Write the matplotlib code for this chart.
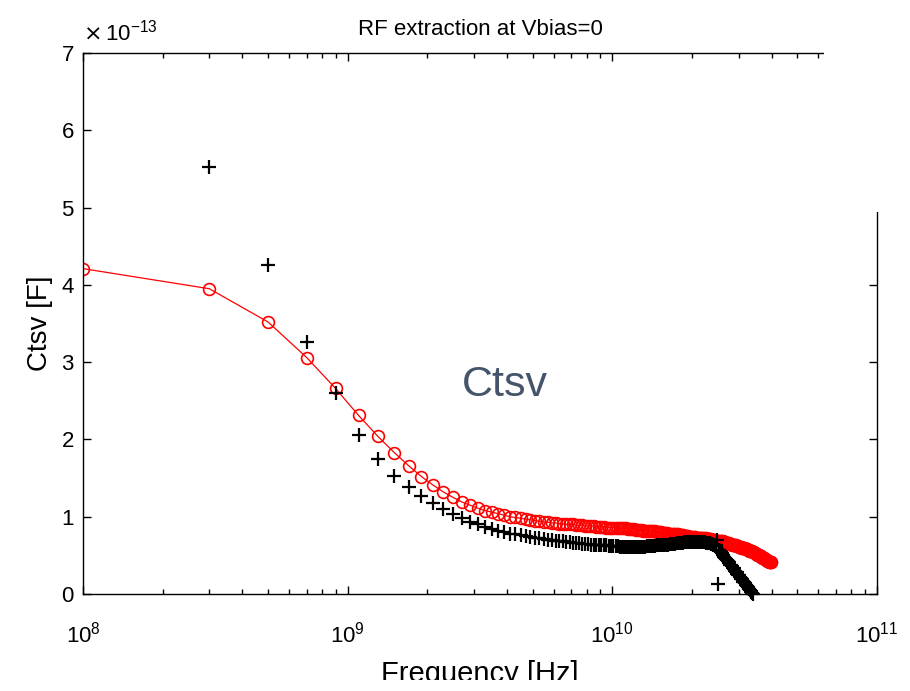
import matplotlib.pyplot as plt
from matplotlib.patches import Rectangle
from matplotlib.ticker import ScalarFormatter

plt.rcParams["font.family"] = ["Liberation Sans", "DejaVu Sans"]

# frequency sweep in GHz (0.2 GHz step)
freq_ghz = [
    0.1, 0.3, 0.5, 0.7, 0.9, 1.1, 1.3, 1.5, 1.7, 1.9,
    2.1, 2.3, 2.5, 2.7, 2.9, 3.1, 3.3, 3.5, 3.7, 3.9,
    4.1, 4.3, 4.5, 4.7, 4.9, 5.1, 5.3, 5.5, 5.7, 5.9,
    6.1, 6.3, 6.5, 6.7, 6.9, 7.1, 7.3, 7.5, 7.7, 7.9,
    8.1, 8.3, 8.5, 8.7, 8.9, 9.1, 9.3, 9.5, 9.7, 9.9,
    10.1, 10.3, 10.5, 10.7, 10.9, 11.1, 11.3, 11.5, 11.7, 11.9,
    12.1, 12.3, 12.5, 12.7, 12.9, 13.1, 13.3, 13.5, 13.7, 13.9,
    14.1, 14.3, 14.5, 14.7, 14.9, 15.1, 15.3, 15.5, 15.7, 15.9,
    16.1, 16.3, 16.5, 16.7, 16.9, 17.1, 17.3, 17.5, 17.7, 17.9,
    18.1, 18.3, 18.5, 18.7, 18.9, 19.1, 19.3, 19.5, 19.7, 19.9,
    20.1, 20.3, 20.5, 20.7, 20.9, 21.1, 21.3, 21.5, 21.7, 21.9,
    22.1, 22.3, 22.5, 22.7, 22.9, 23.1, 23.3, 23.5, 23.7, 23.9,
    24.1, 24.3, 24.5, 24.7, 24.9, 25.1, 25.3, 25.5, 25.7, 25.9,
    26.1, 26.3, 26.5, 26.7, 26.9, 27.1, 27.3, 27.5, 27.7, 27.9,
    28.1, 28.3, 28.5, 28.7, 28.9, 29.1, 29.3, 29.5, 29.7, 29.9,
    30.1, 30.3, 30.5, 30.7, 30.9, 31.1, 31.3, 31.5, 31.7, 31.9,
    32.1, 32.3, 32.5, 32.7, 32.9, 33.1, 33.3, 33.5, 33.7, 33.9,
    34.1, 34.3, 34.5, 34.7, 34.9, 35.1, 35.3, 35.5, 35.7, 35.9,
    36.1, 36.3, 36.5, 36.7, 36.9, 37.1, 37.3, 37.5, 37.7, 37.9,
    38.1, 38.3, 38.5, 38.7, 38.9, 39.1, 39.3, 39.5, 39.7, 39.9,
]

# fitted Ctsv (red circles), units of 1e-13 F
ctsv_fit = [
    4.21, 3.95, 3.52, 3.06, 2.66, 2.31, 2.04, 1.83, 1.66, 1.52,
    1.41, 1.32, 1.25, 1.19, 1.15, 1.11, 1.08, 1.06, 1.04, 1.02,
    1.00, 0.99, 0.98, 0.97, 0.96, 0.95, 0.94, 0.93, 0.93, 0.92,
    0.92, 0.91, 0.91, 0.90, 0.90, 0.90, 0.89, 0.89, 0.89, 0.88,
    0.88, 0.88, 0.88, 0.87, 0.87, 0.87, 0.87, 0.86, 0.86, 0.86,
    0.86, 0.86, 0.85, 0.85, 0.85, 0.85, 0.85, 0.84, 0.84, 0.84,
    0.84, 0.83, 0.83, 0.83, 0.83, 0.82, 0.82, 0.82, 0.82, 0.81,
    0.81, 0.81, 0.81, 0.80, 0.80, 0.80, 0.80, 0.79, 0.79, 0.79,
    0.79, 0.78, 0.78, 0.78, 0.78, 0.77, 0.77, 0.77, 0.77, 0.76,
    0.76, 0.76, 0.76, 0.75, 0.75, 0.75, 0.75, 0.74, 0.74, 0.74,
    0.74, 0.74, 0.74, 0.73, 0.73, 0.73, 0.73, 0.73, 0.72, 0.72,
    0.72, 0.72, 0.72, 0.71, 0.71, 0.71, 0.71, 0.71, 0.70, 0.70,
    0.70, 0.70, 0.70, 0.69, 0.69, 0.69, 0.69, 0.68, 0.68, 0.68,
    0.68, 0.67, 0.67, 0.67, 0.66, 0.66, 0.66, 0.66, 0.65, 0.65,
    0.65, 0.64, 0.64, 0.64, 0.63, 0.63, 0.63, 0.62, 0.62, 0.62,
    0.61, 0.61, 0.61, 0.60, 0.60, 0.60, 0.59, 0.59, 0.59, 0.58,
    0.58, 0.58, 0.57, 0.57, 0.56, 0.56, 0.56, 0.55, 0.55, 0.54,
    0.54, 0.54, 0.53, 0.53, 0.52, 0.52, 0.51, 0.51, 0.50, 0.50,
    0.49, 0.49, 0.48, 0.48, 0.47, 0.47, 0.46, 0.46, 0.45, 0.45,
    0.44, 0.44, 0.43, 0.43, 0.43, 0.42, 0.42, 0.42, 0.41, 0.41,
]

# raw RF extraction (black crosses), starts at 0.3 GHz, units of 1e-13 F
ctsv_rf = [
    5.53, 4.26, 3.26, 2.60, 2.06, 1.75, 1.53, 1.39, 1.27,
    1.18, 1.10, 1.04, 0.98, 0.93, 0.90, 0.87, 0.84, 0.82, 0.80,
    0.78, 0.77, 0.76, 0.75, 0.74, 0.73, 0.72, 0.71, 0.70, 0.70,
    0.69, 0.68, 0.68, 0.67, 0.67, 0.66, 0.66, 0.66, 0.65, 0.65,
    0.65, 0.64, 0.64, 0.64, 0.63, 0.63, 0.63, 0.63, 0.62, 0.62,
    0.62, 0.62, 0.62, 0.61, 0.61, 0.61, 0.61, 0.61, 0.61, 0.61,
    0.61, 0.61, 0.61, 0.61, 0.61, 0.61, 0.61, 0.62, 0.62, 0.62,
    0.62, 0.62, 0.62, 0.63, 0.63, 0.63, 0.63, 0.63, 0.64, 0.64,
    0.64, 0.64, 0.65, 0.65, 0.65, 0.65, 0.65, 0.66, 0.66, 0.66,
    0.66, 0.66, 0.66, 0.67, 0.67, 0.67, 0.67, 0.67, 0.67, 0.67,
    0.67, 0.67, 0.67, 0.67, 0.67, 0.67, 0.67, 0.67, 0.67, 0.67,
    0.67, 0.67, 0.66, 0.66, 0.66, 0.66, 0.66, 0.65, 0.65, 0.65,
    0.64, 0.64, 0.63, 0.63, 0.70, 0.13, 0.57, 0.56, 0.54, 0.53,
    0.51, 0.50, 0.48, 0.47, 0.45, 0.44, 0.43, 0.41, 0.40, 0.38,
    0.37, 0.36, 0.34, 0.33, 0.32, 0.30, 0.29, 0.28, 0.26, 0.25,
    0.24, 0.22, 0.21, 0.20, 0.19, 0.17, 0.16, 0.15, 0.14, 0.12,
    0.11, 0.10, 0.09, 0.07, 0.06, 0.05, 0.04, 0.03, 0.01, 0.00,
]

W, H = 910, 691
fig = plt.figure(figsize=(W / 100, H / 100), dpi=100)
# axes box in pixels: left 83, right 877, top 53, bottom 594
ax = fig.add_axes([83 / W, 1 - 594 / H, (877 - 83) / W, (594 - 53) / H])

f_fit = [f * 1e9 for f in freq_ghz]
c_fit = [c * 1e-13 for c in ctsv_fit]
f_rf = [f * 1e9 for f in freq_ghz[1:1 + len(ctsv_rf)]]
c_rf = [c * 1e-13 for c in ctsv_rf]

ax.plot(f_fit, c_fit, "-o", color="red", lw=0.9, ms=8.5, mfc="none", mew=1.2)
ax.plot(f_rf, c_rf, "+", color="black", ms=10, mew=1.6, clip_on=False)

ax.set_xscale("log")
ax.set_xlim(1e8, 1e11)
ax.set_ylim(0, 7e-13)
ax.set_yticks([i * 1e-13 for i in range(8)])
ax.yaxis.set_major_formatter(ScalarFormatter(useMathText=True))
# the exponent is drawn by hand a bit higher, as in the original
ax.yaxis.get_offset_text().set_visible(False)
ax.text(0.0, 1 + 7 / 541, r"$\times\,\mathdefault{10^{-13}}$", transform=ax.transAxes,
        fontsize=16, ha="left", va="bottom")

for s in ax.spines.values():
    s.set_linewidth(1.0)
ax.tick_params(which="both", direction="in", top=True, right=True,
               labelsize=16, width=1.0)
ax.tick_params(which="major", length=6)
ax.tick_params(which="minor", length=3.5)
ax.tick_params(axis="x", pad=20)
ax.tick_params(axis="y", pad=6)

ax.set_title("RF extraction at Vbias=0", fontsize=16, pad=13)
ax.set_xlabel("Frequency [Hz]", fontsize=21)
ax.xaxis.set_label_coords(0.5, -0.122)
ax.set_ylabel("Ctsv [F]", fontsize=20)
ax.yaxis.set_label_coords(-0.038, 0.5)

fig.text(462 / W, 1 - 396 / H, "Ctsv", fontsize=31, color="#44546A",
         ha="left", va="baseline")

# white areas that hide the top-right corner and the bottom edge
fig.add_artist(Rectangle((824 / W, 1 - 212 / H), 1, 1, transform=fig.transFigure,
                         facecolor="white", edgecolor="none", zorder=10))
fig.add_artist(Rectangle((0, 0), 1, 11 / H, transform=fig.transFigure,
                         facecolor="white", edgecolor="none", zorder=10))

fig.savefig("out.png", dpi=100)
